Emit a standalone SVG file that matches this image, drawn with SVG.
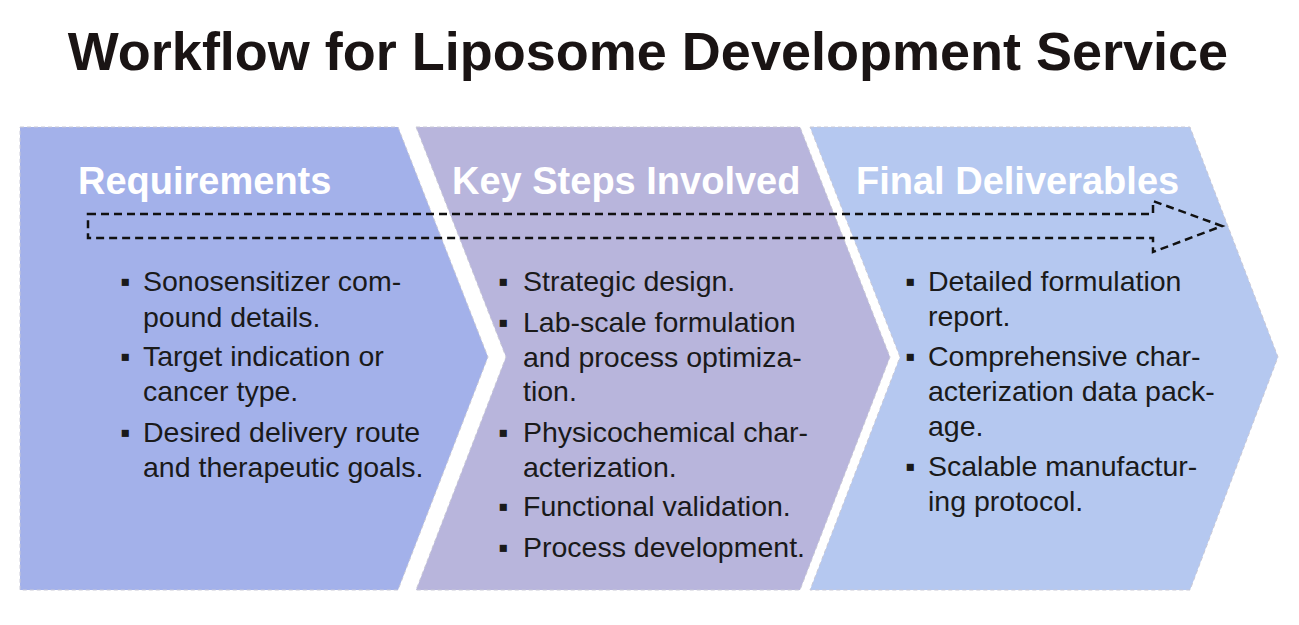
<svg xmlns="http://www.w3.org/2000/svg" width="1299" height="625" viewBox="0 0 1299 625">
<style>
.t{font-family:"Liberation Sans",Arial,sans-serif;font-size:28.5px;fill:#1a1a1a}
.h{font-family:"Liberation Sans",Arial,sans-serif;font-size:38px;font-weight:bold;fill:#fff}
.c{stroke:#c9c9d6;stroke-width:1;stroke-dasharray:4 3}
</style>
<rect width="1299" height="625" fill="#fff"/>
<text x="648" y="70" text-anchor="middle" font-family="Liberation Sans,Arial,sans-serif" font-size="54" font-weight="bold" fill="#1a1414">Workflow for Liposome Development Service</text>
<g id="requirements">
<polygon class="c" points="20,127 398,127 488,357 398,590 20,590" fill="#a3b1ea"/>
<text class="h" x="78" y="194">Requirements</text>
<text class="t"><tspan x="120" y="291">▪</tspan><tspan x="143" y="291">Sonosensitizer com-</tspan><tspan x="143" y="327">pound details.</tspan><tspan x="120" y="366">▪</tspan><tspan x="143" y="366">Target indication or</tspan><tspan x="143" y="401">cancer type.</tspan><tspan x="120" y="442">▪</tspan><tspan x="143" y="442">Desired delivery route</tspan><tspan x="143" y="477">and therapeutic goals.</tspan></text>
</g>
<g id="keysteps">
<polygon class="c" points="416,127 800,127 890,357 800,590 416,590 506,357" fill="#b8b5dc"/>
<text class="h" x="452" y="194">Key Steps Involved</text>
<text class="t"><tspan x="498" y="291">▪</tspan><tspan x="523" y="291">Strategic design.</tspan><tspan x="498" y="332">▪</tspan><tspan x="523" y="332">Lab-scale formulation</tspan><tspan x="523" y="367">and process optimiza-</tspan><tspan x="523" y="401">tion.</tspan><tspan x="498" y="442">▪</tspan><tspan x="523" y="442">Physicochemical char-</tspan><tspan x="523" y="477">acterization.</tspan><tspan x="498" y="516">▪</tspan><tspan x="523" y="516">Functional validation.</tspan><tspan x="498" y="557">▪</tspan><tspan x="523" y="557">Process development.</tspan></text>
</g>
<g id="deliverables">
<polygon class="c" points="810,127 1190,127 1278,357 1190,590 810,590 900,357" fill="#b5c8f0"/>
<text class="h" x="856" y="194">Final Deliverables</text>
<text class="t"><tspan x="905" y="291">▪</tspan><tspan x="928" y="291">Detailed formulation</tspan><tspan x="928" y="326">report.</tspan><tspan x="905" y="366">▪</tspan><tspan x="928" y="366">Comprehensive char-</tspan><tspan x="928" y="401">acterization data pack-</tspan><tspan x="928" y="436">age.</tspan><tspan x="905" y="476">▪</tspan><tspan x="928" y="476">Scalable manufactur-</tspan><tspan x="928" y="511">ing protocol.</tspan></text>
</g>
<g id="connectors">
<polygon points="88,214 1153,214 1153,201 1222,226 1153,252 1153,238 88,238" fill="none" stroke="#111" stroke-width="2.5" stroke-dasharray="8 5"/>
</g>
</svg>
